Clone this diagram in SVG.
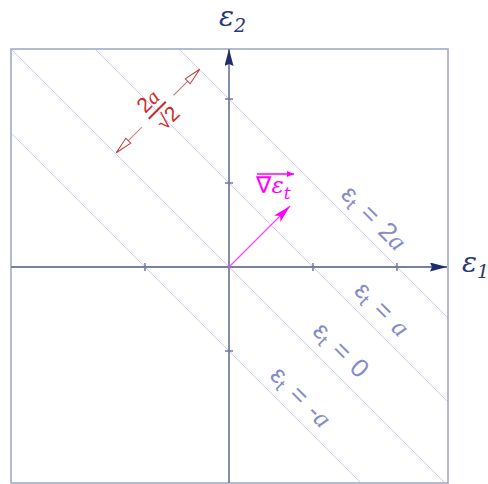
<svg xmlns="http://www.w3.org/2000/svg" width="488" height="484" viewBox="0 0 488 484">
<style>
.frame{fill:none;stroke:#a3a9c8;stroke-width:1.6}
.axis{stroke:#7880a4;stroke-width:1.8;fill:none}
.tick{stroke:#6f789c;stroke-width:1.5}
.level{stroke:#cdcef0;stroke-width:1;fill:none}
.lbl{font-family:"Liberation Sans",Arial,sans-serif;font-size:26px;fill:#868cc8}
.it{font-family:"Liberation Serif","Times New Roman",serif;font-style:italic}
.eps{font-family:"DejaVu Serif","Liberation Serif",serif;font-style:italic}
.axlbl{font-family:"DejaVu Serif","Liberation Serif",serif;font-style:italic;font-size:28px;fill:#2a3878}
.grad{stroke:#ff44ff;stroke-width:1.3;fill:none}
.gradtxt{font-family:"DejaVu Sans","Liberation Sans",sans-serif;font-size:23px;fill:#ff00ff}
.dim{stroke:#d46a6a;stroke-width:1;fill:none}
.dimtxt{font-family:"Liberation Sans",Arial,sans-serif;font-size:21px;fill:#cc2828}
</style>
<defs>
<clipPath id="clipFrame"><rect x="11" y="49" width="437" height="434"/></clipPath>
<marker id="axHead" viewBox="0 0 17 9" refX="17" refY="4.5" markerWidth="17" markerHeight="9" markerUnits="userSpaceOnUse" orient="auto">
<path d="M0,0 L17,4.5 L0,9 L2,4.5 Z" fill="#1f2d6b"/>
</marker>
<marker id="gradHead" viewBox="0 0 18 9" refX="18" refY="4.5" markerWidth="18" markerHeight="9" markerUnits="userSpaceOnUse" orient="auto">
<path d="M0,0 L18,4.5 L0,9 L4,4.5 Z" fill="#ff00ff"/>
</marker>
<marker id="dimHead" viewBox="-1 -1 19 9" refX="17" refY="3.5" markerWidth="19" markerHeight="9" markerUnits="userSpaceOnUse" orient="auto">
<path d="M0,0 L17,3.5 L0,7 Z" fill="#ffffff" stroke="#cc3333" stroke-width="1"/>
</marker>
<marker id="overHead" viewBox="0 0 7 6" refX="7" refY="3" markerWidth="7" markerHeight="6" markerUnits="userSpaceOnUse" orient="auto">
<path d="M0,0 L7,3 L0,6 Z" fill="#ff00ff"/>
</marker>
</defs>
<rect width="488" height="484" fill="#ffffff"/>

<g id="levels" clip-path="url(#clipFrame)">
<line class="level" x1="11" y1="133" x2="361" y2="483"/>
<line class="level" x1="11" y1="49" x2="445" y2="483"/>
<line class="level" x1="95" y1="49" x2="448" y2="402"/>
<line class="level" x1="179" y1="49" x2="448" y2="318"/>
</g>

<g id="frame">
<rect class="frame" x="11" y="49" width="437" height="434"/>
</g>

<g id="connectors">
<line class="axis" x1="11" y1="267" x2="447" y2="267" marker-end="url(#axHead)"/>
<line class="axis" x1="229" y1="483" x2="229" y2="49" marker-end="url(#axHead)"/>
<line class="tick" x1="145" y1="263" x2="145" y2="271"/>
<line class="tick" x1="313" y1="263" x2="313" y2="271"/>
<line class="tick" x1="397" y1="263" x2="397" y2="271"/>
<line class="tick" x1="225" y1="99" x2="233" y2="99"/>
<line class="tick" x1="225" y1="183" x2="233" y2="183"/>
<line class="tick" x1="225" y1="351" x2="233" y2="351"/>
<line class="grad" x1="229" y1="267" x2="290" y2="206" marker-end="url(#gradHead)"/>
</g>

<g id="axis-e1">
<text class="axlbl" x="462" y="272">ε<tspan font-size="19" dy="6">1</tspan></text>
</g>
<g id="axis-e2">
<text class="axlbl" x="219" y="26">ε<tspan font-size="19" dy="6">2</tspan></text>
</g>

<g id="gradient-label">
<line x1="257" y1="174" x2="294" y2="174" stroke="#ff00ff" stroke-width="1.3" marker-end="url(#overHead)"/>
<text class="gradtxt" x="256" y="193">∇<tspan class="eps" font-size="23">ε</tspan><tspan class="eps" font-size="17" dy="6">t</tspan></text>
</g>

<g id="label-2a" transform="translate(368,224) rotate(45)">
<text class="lbl" text-anchor="middle">ε<tspan font-size="18" dy="4">t</tspan><tspan dy="-4" dx="3"> = </tspan><tspan dx="3">2</tspan><tspan class="it">a</tspan></text>
</g>
<g id="label-a" transform="translate(376,315) rotate(45)">
<text class="lbl" text-anchor="middle">ε<tspan font-size="18" dy="4">t</tspan><tspan dy="-4" dx="3"> = </tspan><tspan class="it" dx="3">a</tspan></text>
</g>
<g id="label-0" transform="translate(335,356) rotate(45)">
<text class="lbl" text-anchor="middle">ε<tspan font-size="18" dy="4">t</tspan><tspan dy="-4" dx="3"> = </tspan><tspan dx="3">0</tspan></text>
</g>
<g id="label-minus-a" transform="translate(295,403) rotate(45)">
<text class="lbl" text-anchor="middle">ε<tspan font-size="18" dy="4">t</tspan><tspan dy="-4" dx="3"> = </tspan><tspan dx="3">-</tspan><tspan class="it">a</tspan></text>
</g>

<g id="dimension" transform="translate(158,111) rotate(-45)">
<line class="dim" x1="-23" y1="0" x2="-59" y2="0" marker-end="url(#dimHead)"/>
<line class="dim" x1="22" y1="0" x2="59" y2="0" marker-end="url(#dimHead)"/>
<line x1="-12" y1="-1" x2="12" y2="-1" stroke="#cc2828" stroke-width="2"/>
<text class="dimtxt" x="0" y="-7" text-anchor="middle">2<tspan class="it">a</tspan></text>
<text class="dimtxt" x="2" y="19" text-anchor="middle">√2</text>
</g>
</svg>
